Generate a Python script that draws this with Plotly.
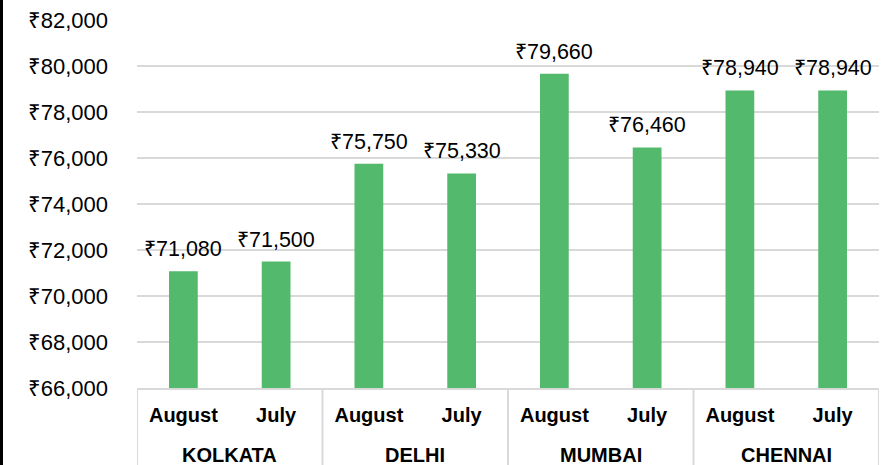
import plotly.graph_objects as go

cities = ["KOLKATA", "KOLKATA", "DELHI", "DELHI", "MUMBAI", "MUMBAI", "CHENNAI", "CHENNAI"]
months = ["August", "July", "August", "July", "August", "July", "August", "July"]
prices = [71080, 71500, 75750, 75330, 79660, 76460, 78940, 78940]
y_ticks = [66000, 68000, 70000, 72000, 74000, 76000, 78000, 80000, 82000]
y_tick_labels = ["₹{:,}".format(v) for v in y_ticks]

FONT = "Liberation Sans"
GRID = "#D9D9D9"

# layout geometry (pixels)
W, H = 889, 465
ML, MR, MT, MB = 137, 10, 20, 77
PW, PH = W - ML - MR, H - MT - MB

pos = list(range(len(months)))

fig = go.Figure(go.Bar(
    x=pos,
    y=prices,
    marker=dict(color="#53B96D", line=dict(width=0)),
    width=0.31,
    hoverinfo="x+y",
))

annotations = []
# value labels above bars
for p, v in zip(pos, prices):
    annotations.append(dict(
        x=p, y=v, xref="x", yref="y", text="₹{:,}".format(v),
        showarrow=False, xanchor="center", yanchor="bottom", yshift=8,
        font=dict(family=FONT, size=21.5, color="#000000"),
    ))

# group labels and dividers
groups = []
for i, c in enumerate(cities):
    if not groups or groups[-1][0] != c:
        groups.append([c, i, i])
    else:
        groups[-1][2] = i

shapes = []
for name, a, b in groups:
    annotations.append(dict(
        x=(a + b) / 2, xref="x", y=(MT + PH - 455) / PH, yref="paper",
        text=name, showarrow=False, yanchor="middle", xanchor="center",
        font=dict(family=FONT, size=20, color="#000000", weight="bold"),
    ))
    shapes.append(dict(type="line", xref="x", yref="paper",
                       x0=a - 0.5, x1=a - 0.5, y0=0, y1=-MB / PH,
                       line=dict(color=GRID, width=2)))
shapes.append(dict(type="line", xref="x", yref="paper",
                   x0=groups[-1][2] + 0.5, x1=groups[-1][2] + 0.5, y0=0, y1=-MB / PH,
                   line=dict(color=GRID, width=2)))
# black strip at the left edge
shapes.append(dict(type="rect", xref="paper", yref="paper",
                   x0=-ML / PW, x1=-(ML - 3) / PW, y0=-MB / PH, y1=1 + MT / PH,
                   fillcolor="#000000", line=dict(width=0)))

fig.update_layout(
    width=W, height=H,
    margin=dict(l=ML, r=MR, t=MT, b=MB, autoexpand=False),
    paper_bgcolor="white", plot_bgcolor="white",
    showlegend=False,
    font=dict(family=FONT, size=20, color="#000000"),
    xaxis=dict(
        range=[-0.5, len(months) - 0.5],
        tickvals=pos, ticktext=months,
        showline=True, linecolor=GRID, linewidth=2,
        ticks="", ticklabelstandoff=8,
        tickfont=dict(family=FONT, size=20, color="#000000", weight="bold"),
        showgrid=False, zeroline=False, automargin=False,
    ),
    yaxis=dict(
        range=[66000, 82000],
        tickvals=y_ticks, ticktext=y_tick_labels,
        showgrid=True, gridcolor=GRID, gridwidth=1.5,
        zeroline=False, showline=False, automargin=False,
        ticklabelstandoff=28,
        tickfont=dict(family=FONT, size=22, color="#000000"),
    ),
    annotations=annotations,
    shapes=shapes,
)

fig.write_html(
    "out.html",
    config={"displayModeBar": False},
    post_script="document.body.style.margin='0px';document.body.style.overflow='hidden';",
)
